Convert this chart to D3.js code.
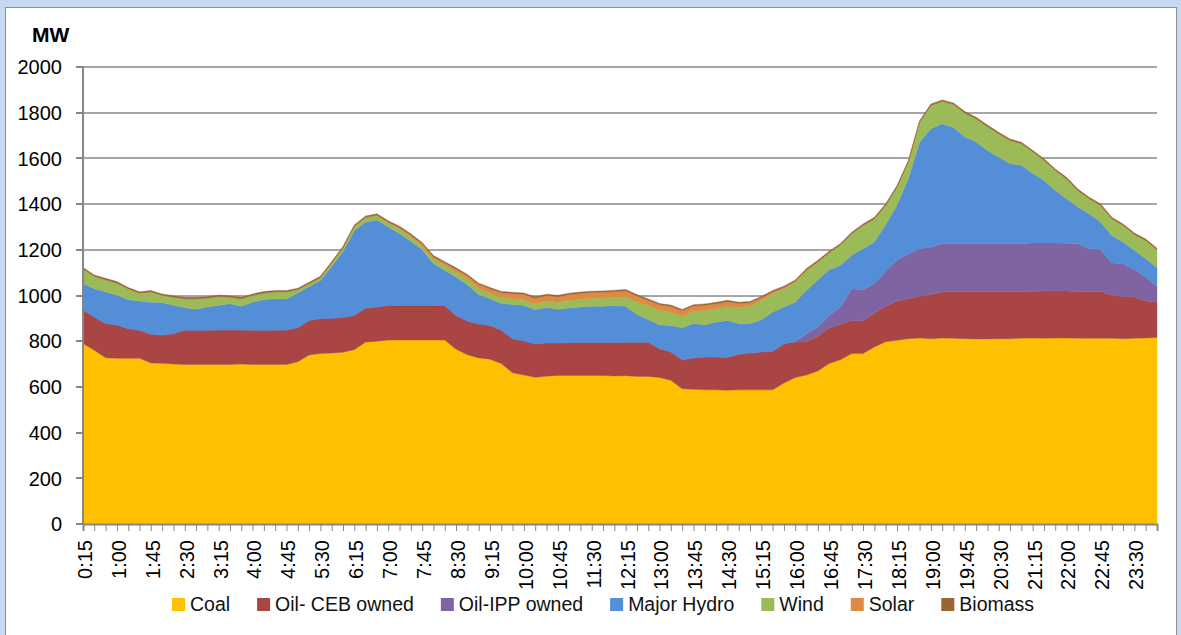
<!DOCTYPE html>
<html>
<head>
<meta charset="utf-8">
<script src="https://cdn.jsdelivr.net/npm/d3@7"></script>
<style>
  body { margin: 0; background: #c6d9f1; }
  svg { display: block; font-family: "Liberation Sans", Arial, sans-serif; }
</style>
</head>
<body>
<svg id="chart" width="1181" height="635"></svg>
<script>
// 15-minute categories
const times = [
  "0:15","0:30","0:45","1:00","1:15","1:30","1:45","2:00","2:15","2:30","2:45","3:00",
  "3:15","3:30","3:45","4:00","4:15","4:30","4:45","5:00","5:15","5:30","5:45","6:00",
  "6:15","6:30","6:45","7:00","7:15","7:30","7:45","8:00","8:15","8:30","8:45","9:00",
  "9:15","9:30","9:45","10:00","10:15","10:30","10:45","11:00","11:15","11:30","11:45","12:00",
  "12:15","12:30","12:45","13:00","13:15","13:30","13:45","14:00","14:15","14:30","14:45","15:00",
  "15:15","15:30","15:45","16:00","16:15","16:30","16:45","17:00","17:15","17:30","17:45","18:00",
  "18:15","18:30","18:45","19:00","19:15","19:30","19:45","20:00","20:15","20:30","20:45","21:00",
  "21:15","21:30","21:45","22:00","22:15","22:30","22:45","23:00","23:15","23:30","23:45","24:00"
];

// MW by source
const coal = [
  790,760,728,725,725,725,705,703,700,698,698,698,698,698,700,698,698,698,698,710,740,746,748,752,
  763,796,800,805,805,805,805,805,805,765,741,727,721,702,662,652,642,647,650,650,650,650,650,648,
  649,646,646,641,629,592,590,587,587,585,587,587,587,587,617,641,652,670,702,719,746,746,775,798,
  804,811,814,811,814,813,811,810,810,811,811,813,814,813,814,814,813,813,813,813,811,813,814,816
];
const oilCEB = [
  148,146,149,146,130,123,125,124,133,150,150,150,151,151,149,150,150,150,151,149,151,153,152,152,
  150,149,150,151,151,151,151,151,151,148,147,148,148,146,149,149,146,145,142,144,144,144,144,146,
  146,149,149,126,124,127,137,144,144,144,156,161,166,169,172,156,146,153,156,155,145,145,148,155,
  172,175,182,194,201,204,206,207,207,206,206,204,205,207,206,206,204,204,204,188,185,180,162,155
];
const oilIPP = [
  0,0,0,0,0,0,0,0,0,0,0,0,0,0,0,0,0,0,0,0,0,0,0,0,
  0,0,0,0,0,0,0,0,0,0,0,0,0,0,0,0,0,0,0,0,0,0,0,0,
  0,0,0,0,0,0,0,0,0,0,0,0,0,0,0,0,35,39,55,76,139,135,129,153,
  178,197,209,207,212,210,210,210,210,210,210,211,211,210,210,209,210,188,185,141,144,120,105,69
];
const hydro = [
  114,124,139,130,127,128,141,142,124,99,92,102,108,115,104,123,134,138,136,152,149,167,228,290,
  372,377,380,344,315,281,245,183,154,168,159,129,117,117,150,156,150,155,148,151,156,159,159,162,
  158,122,100,105,116,140,150,141,153,162,134,129,141,172,161,174,190,207,200,182,146,179,182,204,
  241,328,467,518,525,508,467,445,408,379,350,342,305,274,230,195,160,153,120,121,94,85,80,82
];
const wind = [
  65,54,53,54,48,35,45,32,36,39,46,39,39,29,33,30,29,30,31,15,12,12,15,15,
  18,20,22,18,20,19,15,20,22,22,25,28,25,27,25,25,26,29,31,34,34,35,36,36,
  42,56,60,63,59,51,54,63,59,62,70,76,85,80,80,88,87,78,75,90,95,102,102,85,
  80,73,87,102,98,102,105,102,105,102,102,95,95,88,88,87,73,66,73,73,73,70,80,79
];
const solar = [
  0,0,0,0,0,0,0,0,0,0,0,0,0,0,0,0,0,0,0,0,0,0,0,0,
  0,0,0,3,6,8,10,10,10,12,14,16,18,20,22,23,24,24,24,25,25,25,25,25,
  25,25,24,24,24,23,23,22,21,20,18,15,11,8,5,3,2,1,0,0,0,0,0,0,
  0,0,0,0,0,0,0,0,0,0,0,0,0,0,0,0,0,0,0,0,0,0,0,0
];
const biomass = [
  6,6,6,6,5,5,6,6,6,6,6,6,6,6,6,6,6,6,6,6,6,6,6,6,
  6,6,6,6,6,6,6,6,6,6,6,6,6,6,6,6,6,6,6,6,6,6,6,6,
  6,6,6,6,6,6,6,6,6,6,6,6,6,6,6,6,6,6,6,6,6,6,6,6,
  6,6,6,6,6,6,6,6,6,6,6,6,6,6,6,6,6,6,6,6,6,6,6,6
];

const seriesNames = ["Coal", "Oil- CEB owned", "Oil-IPP owned", "Major Hydro", "Wind", "Solar", "Biomass"];
const seriesData = [coal, oilCEB, oilIPP, hydro, wind, solar, biomass];
const colors = ["#ffc000", "#a94543", "#8064a2", "#548ed6", "#9bbb59", "#df8a43", "#9a6434"];
const yTicks = [0, 200, 400, 600, 800, 1000, 1200, 1400, 1600, 1800, 2000];

const rows = times.map((t, i) => {
  const r = { time: t };
  seriesNames.forEach((k, j) => { r[k] = seriesData[j][i]; });
  return r;
});

const svg = d3.select("#chart");

// frame
svg.append("rect").attr("x", 0).attr("y", 0).attr("width", 1181).attr("height", 635).attr("fill", "#c6d9f1");
svg.append("rect").attr("x", 5.5).attr("y", 7.5).attr("width", 1171).attr("height", 640)
  .attr("fill", "#fff").attr("stroke", "#8e8e8e");

const x = d3.scalePoint().domain(times).range([83, 1157]);
const y = d3.scaleLinear().domain([0, 2000]).range([524, 67]);

// gridlines
svg.append("g")
  .selectAll("line")
  .data(yTicks.filter(d => d > 0))
  .join("line")
  .attr("x1", 83).attr("x2", 1157)
  .attr("y1", d => Math.round(y(d))).attr("y2", d => Math.round(y(d)))
  .attr("stroke", "#a6a6a6").attr("stroke-width", 2);

// stacked areas
const stacked = d3.stack().keys(seriesNames)(rows);
const area = d3.area()
  .x(d => x(d.data.time))
  .y0(d => y(d[0]))
  .y1(d => y(d[1]));

svg.append("g")
  .selectAll("path")
  .data(stacked)
  .join("path")
  .attr("d", area)
  .attr("fill", (d, i) => colors[i])
  .attr("stroke", (d, i) => colors[i])
  .attr("stroke-width", 0.4);

// y axis
const yAxis = svg.append("g");
yAxis.append("line")
  .attr("x1", 83).attr("x2", 83).attr("y1", 66).attr("y2", 525)
  .attr("stroke", "#868686").attr("stroke-width", 2);
yAxis.selectAll("line.tick")
  .data(yTicks)
  .join("line")
  .attr("class", "tick")
  .attr("x1", 76).attr("x2", 83)
  .attr("y1", d => Math.round(y(d))).attr("y2", d => Math.round(y(d)))
  .attr("stroke", "#868686").attr("stroke-width", 2);
yAxis.selectAll("text")
  .data(yTicks)
  .join("text")
  .attr("x", 62)
  .attr("y", d => y(d))
  .attr("dy", "0.36em")
  .attr("text-anchor", "end")
  .attr("font-size", 20)
  .attr("fill", "#000")
  .text(d => d);

svg.append("text")
  .attr("x", 32).attr("y", 42)
  .attr("font-size", 21).attr("font-weight", "bold")
  .text("MW");

// x axis
const xAxis = svg.append("g")
  .attr("transform", "translate(0,524)")
  .call(d3.axisBottom(x)
    .tickSize(7)
    .tickFormat((d, i) => i % 3 === 0 ? d : ""));
xAxis.select(".domain").attr("stroke", "#868686").attr("stroke-width", 2);
xAxis.selectAll(".tick line").attr("stroke", "#868686").attr("stroke-width", 1);
xAxis.selectAll(".tick text")
  .attr("transform", "rotate(-90)")
  .attr("x", -16)
  .attr("y", 0)
  .attr("dy", "0.42em")
  .attr("text-anchor", "end")
  .attr("font-size", 20)
  .attr("font-family", "Liberation Sans, Arial, sans-serif")
  .attr("fill", "#000");

// legend
const legend = svg.append("g");
let lx = 172;
seriesNames.forEach((name, i) => {
  legend.append("rect")
    .attr("x", lx).attr("y", 598)
    .attr("width", 13).attr("height", 13)
    .attr("fill", colors[i]);
  const t = legend.append("text")
    .attr("x", lx + 18).attr("y", 611)
    .attr("font-size", 19.5)
    .attr("fill", "#111")
    .text(name);
  lx += 18 + t.node().getComputedTextLength() + 27;
});
</script>
</body>
</html>
